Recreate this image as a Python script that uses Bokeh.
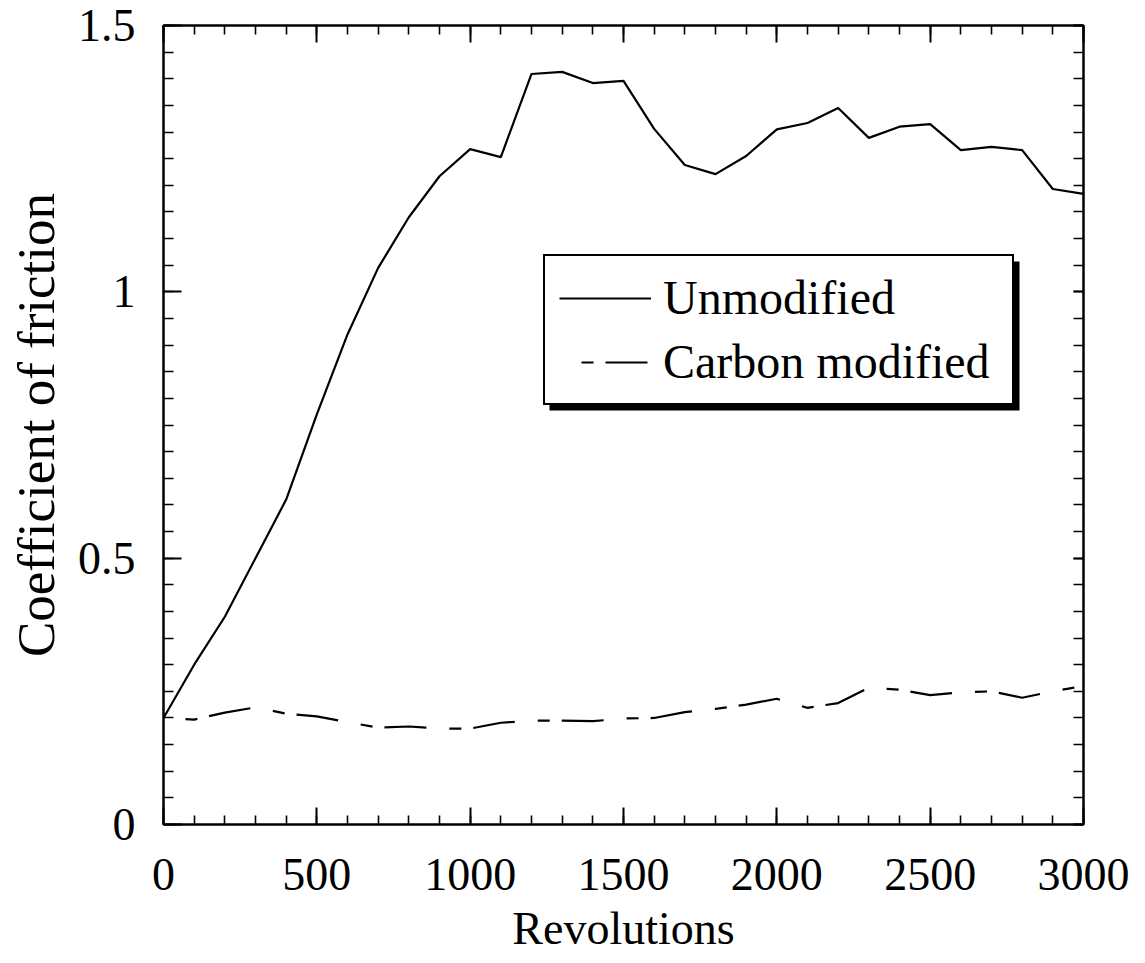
from bokeh.plotting import figure
from bokeh.models import (Range1d, LinearAxis, FixedTicker, Legend, LegendItem,
                          BoxAnnotation)
from bokeh.embed import file_html
from bokeh.resources import INLINE

# ---- data ----
revolutions = [0, 100, 200, 300, 400, 500, 600, 700, 800, 900, 1000,
               1100, 1200, 1300, 1400, 1500, 1600, 1700, 1800, 1900, 2000,
               2100, 2200, 2300, 2400, 2500, 2600, 2700, 2800, 2900, 3000]
unmodified = [0.20, 0.30, 0.39, 0.50, 0.61, 0.77, 0.92, 1.045, 1.14, 1.217, 1.268,
              1.253, 1.409, 1.413, 1.392, 1.396, 1.306, 1.238, 1.221, 1.255, 1.305,
              1.317, 1.345, 1.289, 1.310, 1.315, 1.266, 1.272, 1.266, 1.193, 1.184]
carbon_modified = [0.200, 0.197, 0.210, 0.220, 0.208, 0.203, 0.192, 0.182, 0.184, 0.180, 0.180,
                   0.191, 0.195, 0.195, 0.194, 0.199, 0.200, 0.211, 0.217, 0.225, 0.236,
                   0.219, 0.228, 0.257, 0.253, 0.243, 0.248, 0.250, 0.238, 0.250, 0.260]
series_names = ["Unmodified", "Carbon modified"]
x_major = [0, 500, 1000, 1500, 2000, 2500, 3000]
x_minor = list(range(0, 3001, 100))
y_major = [0, 0.5, 1, 1.5]
y_minor = [round(i * 0.05, 2) for i in range(31)]
x_title = "Revolutions"
y_title = "Coefficient of friction"

FONT = "Liberation Serif"
W, H = 1145, 963
BL, BR, BT, BB = 163, 62, 25, 139

p = figure(width=W, height=H, output_backend="svg", toolbar_location=None,
           x_range=Range1d(0, 3000), y_range=Range1d(0, 1.5),
           x_axis_location=None, y_axis_location=None,
           min_border_left=BL, min_border_right=BR,
           min_border_top=BT, min_border_bottom=BB)
p.grid.visible = False
p.outline_line_color = "black"
p.outline_line_width = 2
p.background_fill_color = "white"
p.border_fill_color = "white"


def style_axis(ax, labels=True, major_len=17, minor_len=9):
    ax.axis_line_width = 2
    ax.axis_line_color = "black"
    ax.major_tick_in = major_len
    ax.major_tick_out = 0
    ax.minor_tick_in = minor_len
    ax.minor_tick_out = 0
    ax.major_tick_line_width = 2
    ax.minor_tick_line_width = 1.6
    ax.major_tick_line_color = "black"
    ax.minor_tick_line_color = "black"
    ax.major_label_text_font = FONT
    if labels:
        ax.major_label_text_color = "black"
        ax.major_label_text_font_size = "46px"
    else:
        ax.major_label_text_color = None
        ax.major_label_text_alpha = 0
        ax.major_label_text_font_size = "0px"
        ax.major_label_standoff = 0


xt = FixedTicker(ticks=x_major, minor_ticks=x_minor)
yt = FixedTicker(ticks=y_major, minor_ticks=y_minor)

bottom = LinearAxis(ticker=xt, axis_label=x_title)
style_axis(bottom)
bottom.major_label_standoff = 34
bottom.axis_label_text_font = FONT
bottom.axis_label_text_font_size = "46px"
bottom.axis_label_text_font_style = "normal"
bottom.axis_label_text_color = "black"
bottom.axis_label_standoff = 10
p.add_layout(bottom, "below")

left = LinearAxis(ticker=yt, axis_label=y_title)
style_axis(left, major_len=18, minor_len=10)
left.major_label_standoff = 28
left.axis_label_text_font = FONT
left.axis_label_text_font_size = "53px"
left.axis_label_text_font_style = "normal"
left.axis_label_text_color = "black"
left.axis_label_standoff = 10
left.major_label_overrides = {0: "0", 0.5: "0.5", 1: "1", 1.5: "1.5"}
p.add_layout(left, "left")

top = LinearAxis(ticker=xt)
style_axis(top, labels=False)
p.add_layout(top, "above")

right = LinearAxis(ticker=yt)
style_axis(right, labels=False, major_len=10, minor_len=10)
p.add_layout(right, "right")

r1 = p.line(revolutions, unmodified, line_color="black", line_width=2.2)
r2 = p.line(revolutions, carbon_modified, line_color="black", line_width=2.2,
            line_dash="12 12 42 23", line_dash_offset=67)

# legend shadow (screen pixel layout converted to data units)
frame_w = W - BL - BR
frame_h = H - BT - BB
def px_x(px):
    return (px - BL) * 3000 / frame_w
def px_y(py):
    return (H - BB - py) * 1.5 / frame_h

shadow = BoxAnnotation(left=px_x(549), right=px_x(1019), top=px_y(261), bottom=px_y(410),
                       fill_color="black", fill_alpha=1.0, line_color=None)
p.add_layout(shadow)

legend = Legend(items=[LegendItem(label=series_names[0], renderers=[r1]),
                       LegendItem(label=series_names[1], renderers=[r2])],
                location=(543 - BL, H - BB - 405),
                label_text_font=FONT, label_text_font_size="48px",
                label_text_color="black", label_width=335,
                glyph_width=92, glyph_height=40, label_standoff=12,
                padding=14, spacing=9, margin=0,
                border_line_color="black", border_line_width=2,
                border_line_alpha=1.0,
                background_fill_color="white", background_fill_alpha=1.0)
p.add_layout(legend, "center")

open("out.html", "w").write(file_html(p, INLINE))
